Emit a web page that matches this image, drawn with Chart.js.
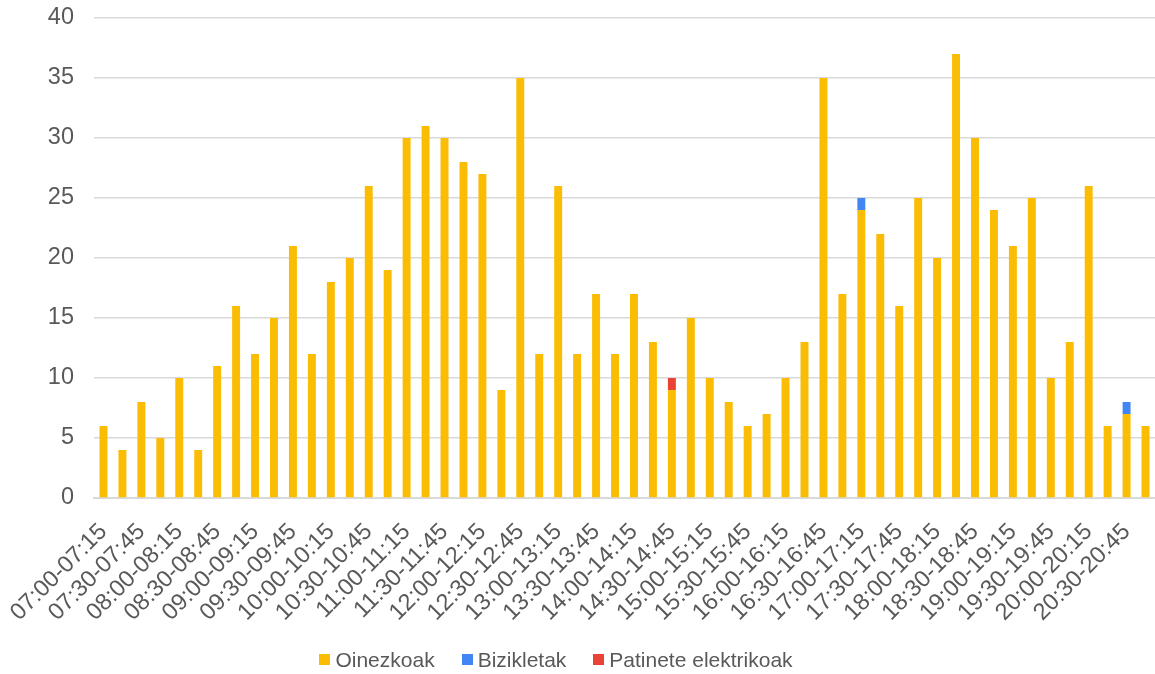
<!DOCTYPE html>
<html>
<head>
<meta charset="utf-8">
<script src="https://cdn.jsdelivr.net/npm/chart.js@4/dist/chart.umd.min.js"></script>
<style>
  html, body { margin: 0; padding: 0; background: #ffffff; }
  #wrap { width: 1155px; height: 674px; position: relative; }
</style>
</head>
<body>
<div id="wrap"><canvas id="c" width="1155" height="674"></canvas></div>
<script>
const categories = [
  "07:00-07:15","07:15-07:30","07:30-07:45","07:45-08:00",
  "08:00-08:15","08:15-08:30","08:30-08:45","08:45-09:00",
  "09:00-09:15","09:15-09:30","09:30-09:45","09:45-10:00",
  "10:00-10:15","10:15-10:30","10:30-10:45","10:45-11:00",
  "11:00-11:15","11:15-11:30","11:30-11:45","11:45-12:00",
  "12:00-12:15","12:15-12:30","12:30-12:45","12:45-13:00",
  "13:00-13:15","13:15-13:30","13:30-13:45","13:45-14:00",
  "14:00-14:15","14:15-14:30","14:30-14:45","14:45-15:00",
  "15:00-15:15","15:15-15:30","15:30-15:45","15:45-16:00",
  "16:00-16:15","16:15-16:30","16:30-16:45","16:45-17:00",
  "17:00-17:15","17:15-17:30","17:30-17:45","17:45-18:00",
  "18:00-18:15","18:15-18:30","18:30-18:45","18:45-19:00",
  "19:00-19:15","19:15-19:30","19:30-19:45","19:45-20:00",
  "20:00-20:15","20:15-20:30","20:30-20:45","20:45-21:00"
];
const oinezkoak = [6,4,8,5,10,4,11,16,12,15,21,12,18,20,26,19,30,31,30,28,27,9,35,12,26,12,17,12,17,13,9,15,10,8,6,7,10,13,35,17,24,22,16,25,20,37,30,24,21,25,10,13,26,6,7,6];
const bizikletak = [0,0,0,0,0,0,0,0,0,0,0,0,0,0,0,0,0,0,0,0,0,0,0,0,0,0,0,0,0,0,0,0,0,0,0,0,0,0,0,0,1,0,0,0,0,0,0,0,0,0,0,0,0,0,1,0];
const patinete = [0,0,0,0,0,0,0,0,0,0,0,0,0,0,0,0,0,0,0,0,0,0,0,0,0,0,0,0,0,0,1,0,0,0,0,0,0,0,0,0,0,0,0,0,0,0,0,0,0,0,0,0,0,0,0,0];
const yTicks = [0,5,10,15,20,25,30,35,40];
const seriesNames = ['Oinezkoak', 'Bizikletak', 'Patinete elektrikoak'];
const seriesColors = ['#FBBC04', '#4285F4', '#EA4335'];

const FONT = "'Liberation Sans', Arial, sans-serif";
const TEXT = '#595959';
const GRID = '#d9d9d9';

// Legend drawn below the chart, built from the datasets
const bottomLegend = {
  id: 'bottomLegend',
  afterDraw(chart) {
    const ctx = chart.ctx;
    const ds = chart.data.datasets;
    const box = 11, gapText = 5, gapItem = 27, cy = 660, centerX = 556;
    ctx.save();
    ctx.font = '21px ' + FONT;
    const widths = ds.map(d => ctx.measureText(d.label).width);
    let total = 0;
    widths.forEach((w, i) => { total += box + gapText + w + (i < widths.length - 1 ? gapItem : 0); });
    let x = centerX - total / 2;
    ctx.textBaseline = 'middle';
    ctx.textAlign = 'left';
    ds.forEach((d, i) => {
      ctx.fillStyle = d.backgroundColor;
      ctx.fillRect(Math.round(x), cy - 6, box, box);
      ctx.fillStyle = TEXT;
      ctx.fillText(d.label, x + box + gapText, cy + 1);
      x += box + gapText + widths[i] + gapItem;
    });
    ctx.restore();
  }
};

new Chart(document.getElementById('c'), {
  type: 'bar',
  data: {
    labels: categories,
    datasets: [
      { label: seriesNames[0], data: oinezkoak, backgroundColor: seriesColors[0], stack: 's' },
      { label: seriesNames[1], data: bizikletak, backgroundColor: seriesColors[1], stack: 's' },
      { label: seriesNames[2], data: patinete, backgroundColor: seriesColors[2], stack: 's' }
    ]
  },
  options: {
    responsive: false,
    animation: false,
    devicePixelRatio: 1,
    layout: { padding: { top: 18, left: 0, right: 0, bottom: 6 } },
    datasets: { bar: { barPercentage: 0.84, categoryPercentage: 0.5 } },
    scales: {
      x: {
        stacked: true,
        grid: { display: false, drawTicks: false },
        border: { display: true, color: GRID, width: 2 },
        ticks: {
          autoSkip: false,
          minRotation: 45,
          maxRotation: 45,
          padding: 20,
          color: TEXT,
          font: { family: FONT, size: 23.5 },
          callback: function(v, i) { return i % 2 === 0 ? categories[i] : ''; }
        },
        afterFit(scale) {
          scale.height = 170;
          scale.paddingLeft = 0; scale.paddingRight = 0;
          scale.paddingTop = 0; scale.paddingBottom = 0;
        }
      },
      y: {
        stacked: true,
        min: 0,
        max: 40,
        afterBuildTicks(scale) { scale.ticks = yTicks.map(v => ({ value: v })); },
        grid: { color: GRID, lineWidth: 1.5, drawTicks: false },
        border: { display: false },
        ticks: {
          padding: 20,
          color: TEXT,
          font: { family: FONT, size: 23.5 }
        },
        afterFit(scale) {
          scale.width = 94;
          scale.paddingTop = 0; scale.paddingBottom = 0;
          scale.paddingLeft = 0; scale.paddingRight = 0;
        }
      }
    },
    plugins: {
      legend: { display: false },
      tooltip: { enabled: false }
    }
  },
  plugins: [bottomLegend]
});
</script>
</body>
</html>
